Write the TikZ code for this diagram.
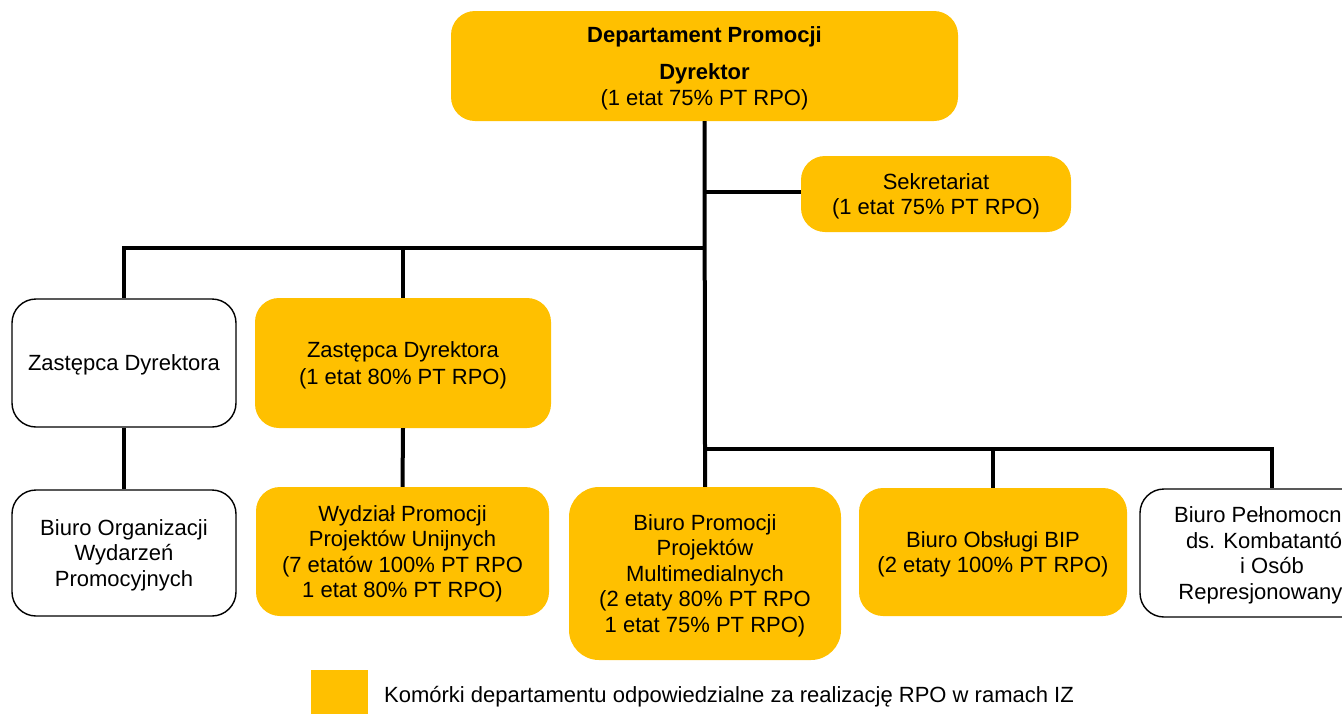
\documentclass[tikz,border=0pt]{standalone}
\usepackage{fontspec}
\setmainfont{Liberation Sans}
\definecolor{unitgold}{HTML}{FFC000}
\begin{document}
\begin{tikzpicture}[x=1pt,y=-1pt,
  unit/.style={rectangle, rounded corners=24pt, inner sep=0pt, align=center,
    text depth=0pt, font=\fontsize{22}{25.5}\selectfont, anchor=center},
  goldunit/.style={unit, fill=unitgold},
  plainunit/.style={unit, draw=black, line width=1.4pt, fill=white},
  link/.style={draw=black, line width=4pt},
  legendtext/.style={font=\fontsize{22}{26}\selectfont, anchor=west, inner sep=0pt}]
\useasboundingbox (0,0) rectangle (1342,713);
\clip (0,0) rectangle (1342,713);

% units
\node[goldunit, minimum width=507pt, minimum height=110pt] (dir) at (704.5,66)
  {\textbf{Departament Promocji}\\[12pt]\textbf{Dyrektor}\\(1 etat 75\% PT RPO)};
\node[goldunit, minimum width=270pt, minimum height=76pt] (sek) at (936,194)
  {Sekretariat\\(1 etat 75\% PT RPO)};
\node[plainunit, minimum width=224pt, minimum height=128pt] (zd1) at (124,363)
  {Zastępca Dyrektora};
\node[goldunit, minimum width=296pt, minimum height=130pt] (zd2) at (403,363)
  {Zastępca Dyrektora\\[2pt](1 etat 80\% PT RPO)};
\node[plainunit, minimum width=224pt, minimum height=126pt] (boz) at (124,553)
  {Biuro Organizacji\\Wydarzeń\\Promocyjnych};
\node[goldunit, minimum width=293pt, minimum height=129pt] (wpp) at (402.5,551.5)
  {Wydział Promocji\\Projektów Unijnych\\(7 etatów 100\% PT RPO\\1 etat 80\% PT RPO)};
\node[goldunit, minimum width=272pt, minimum height=173pt, rounded corners=30pt] (bpm) at (705,573.5)
  {Biuro Promocji\\Projektów\\Multimedialnych\\(2 etaty 80\% PT RPO\\1 etat 75\% PT RPO)};
\node[goldunit, minimum width=268pt, minimum height=128pt] (bip) at (993,552)
  {Biuro Obsługi BIP\\(2 etaty 100\% PT RPO)};
\node[plainunit, minimum width=264pt, minimum height=128pt] (bpk) at (1272,553)
  {Biuro Pełnomocnika\\ds. Kombatantów\\i Osób\\Represjonowanych};

% junctions of the connector tree
\coordinate (jsek) at (705,192);
\coordinate (jtop) at (705,248);
\coordinate (jbot) at (705,449);

% connectors
\draw[link] (dir.south) -- (jbot) -- (bpm.north);
\draw[link] (jsek) -- (jsek -| sek.west);
\draw[link] (jtop) -| (zd1.north);
\draw[link] (zd2.north) -- (zd2.north |- jtop);
\draw[link] (zd1.south) -- (boz.north);
\draw[link] (zd2.south) -- (wpp.north);
\draw[link] (jbot) -| (bpk.north);
\draw[link] (bip.north) -- (bip.north |- jbot);

% legend
\node[fill=unitgold, minimum width=57pt, minimum height=46pt, inner sep=0pt] (key) at (339.5,693) {};
\node[legendtext] (keytext) at (384,697)
  {Komórki departamentu odpowiedzialne za realizację RPO w ramach IZ};
\end{tikzpicture}
\end{document}
